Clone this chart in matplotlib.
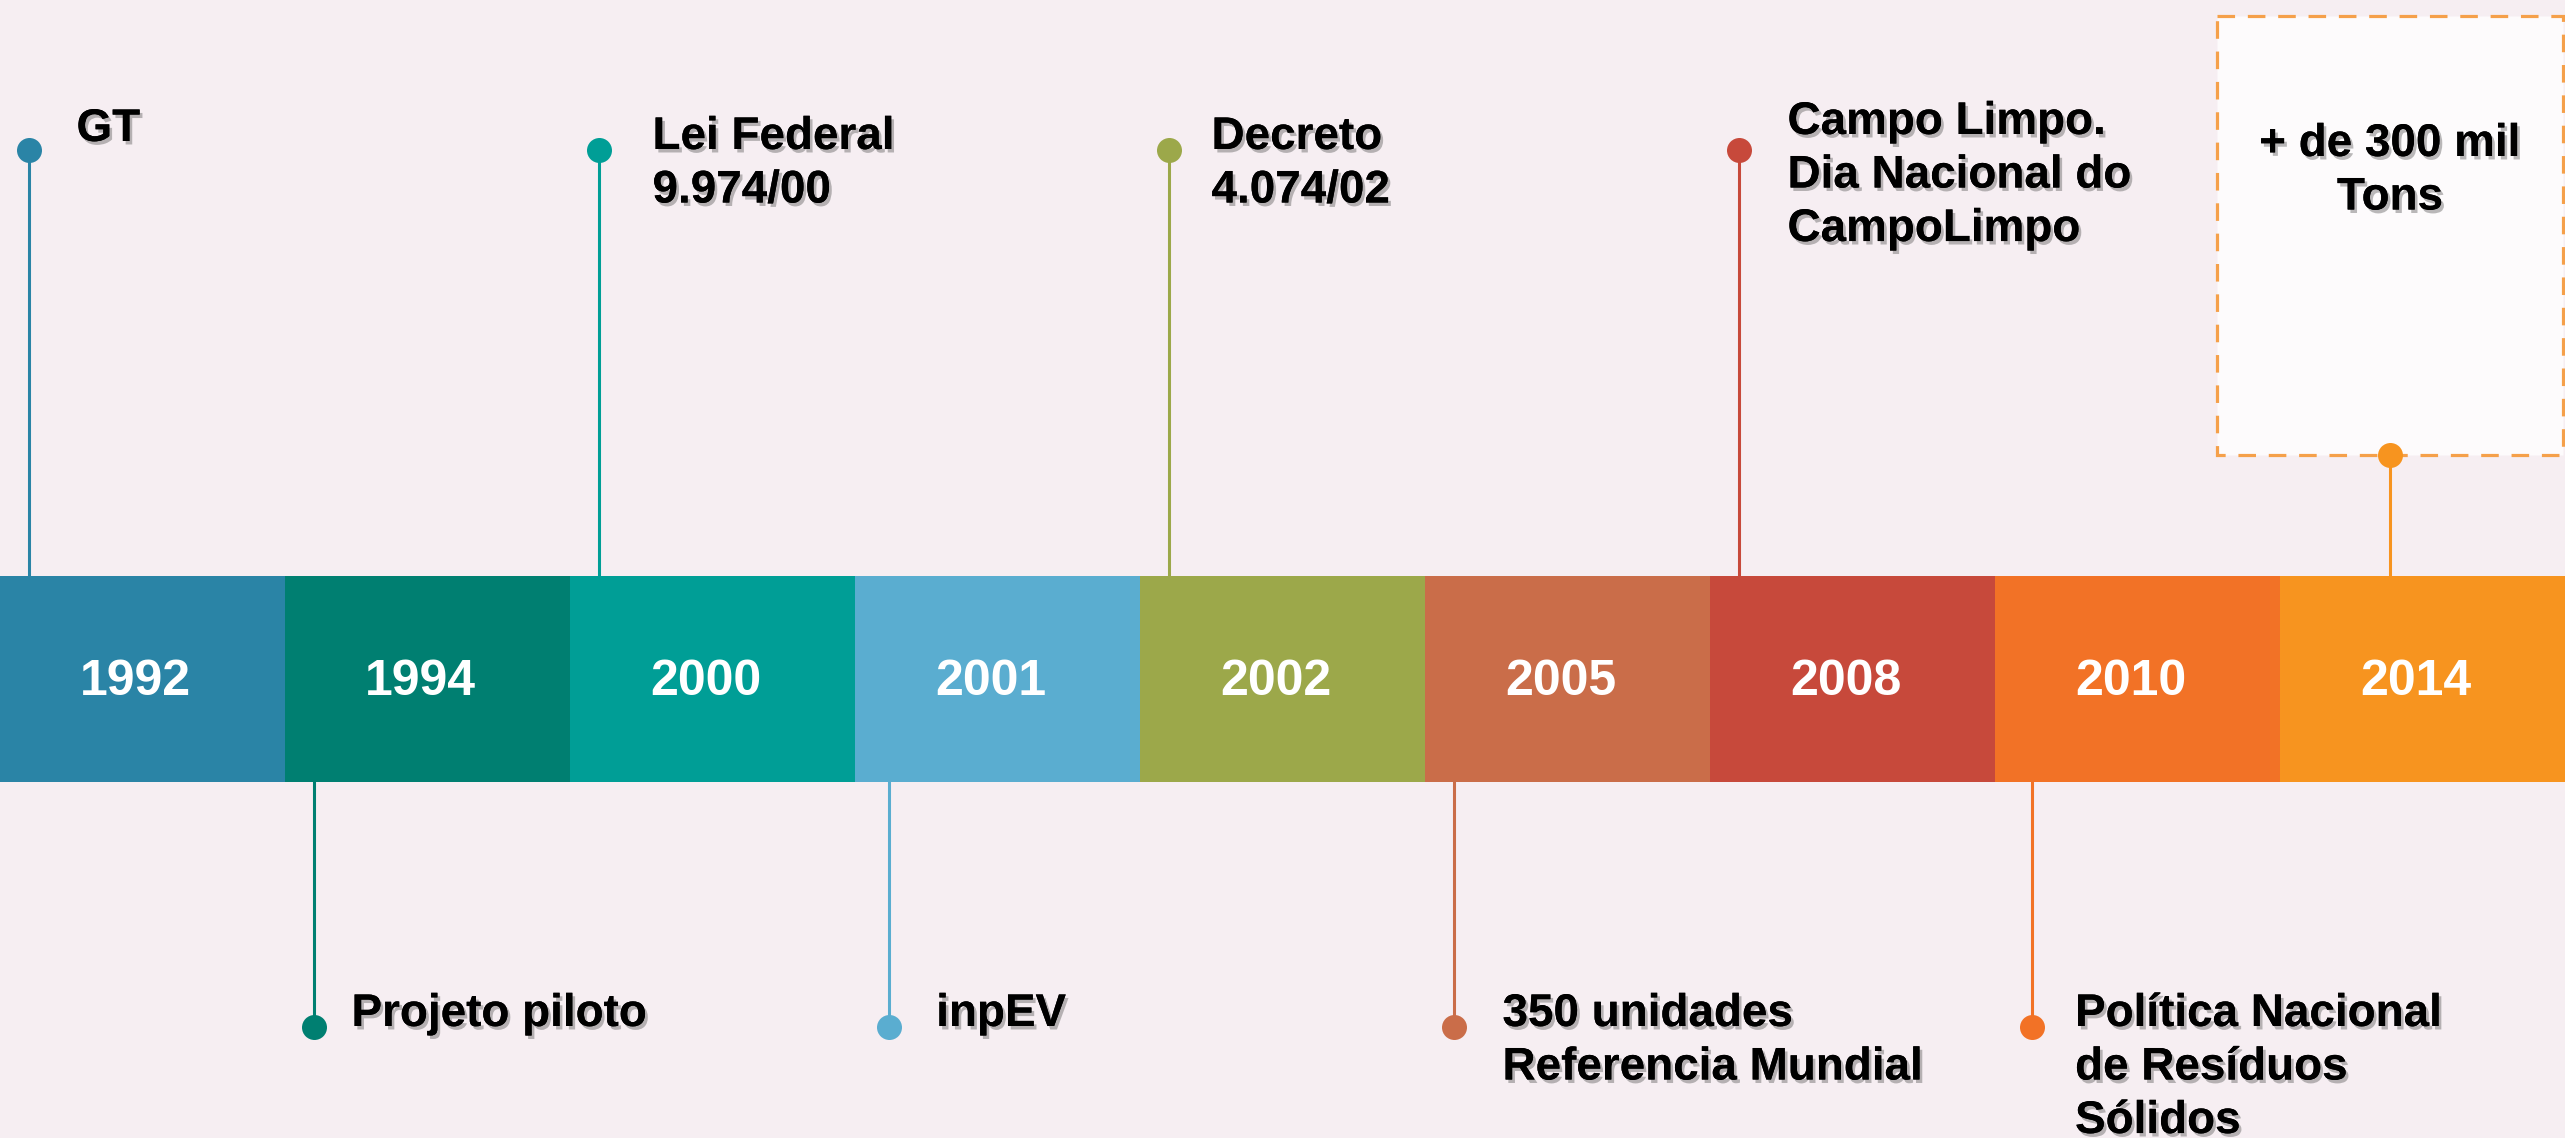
import matplotlib.pyplot as plt
import matplotlib.patheffects as pe
from matplotlib.patches import Rectangle

plt.rcParams['font.family'] = ['Liberation Sans', 'DejaVu Sans']

# timeline data
years = ['1992', '1994', '2000', '2001', '2002', '2005', '2008', '2010', '2014']
events = ['GT', 'Projeto piloto', 'Lei Federal\n9.974/00', 'inpEV', 'Decreto\n4.074/02',
          '350 unidades\nReferencia Mundial', 'Campo Limpo.\nDia Nacional do\nCampoLimpo',
          'Política Nacional\nde Resíduos\nSólidos', '+ de 300 mil\nTons']
side = ['up', 'down', 'up', 'down', 'up', 'down', 'up', 'down', 'box']
colors = ['#2A84A6', '#007F71', '#009E96', '#5AADD0', '#9CA84A',
          '#CA6D49', '#C7493B', '#F27226', '#F7941F']

# layout (pixel units, y downwards)
W, H = 2565, 1138
band_top, band_bot = 576, 782
dot_up, dot_down, dot_box = 150, 1027, 455
dot_frac = [0.1, 0.1, 0.1, 0.12, 0.1, 0.1, 0.1, 0.13, 0.386]
text_dx = [48, 38, 54, 47, 43, 49, 49, 43, 0]
text_top = [107, 992, 115, 992, 115, 992, 100, 992, 122]
bg = '#F6EEF2'

fig = plt.figure(figsize=(W / 100, H / 100), dpi=100, facecolor=bg)
ax = fig.add_axes([0, 0, 1, 1])
ax.set_facecolor(bg)
ax.set_xlim(0, len(years))
ax.set_ylim(H, 0)
ax.axis('off')

shadow = [pe.withSimplePatchShadow(offset=(2, -2.5), shadow_rgbFace='#666666', alpha=0.45), pe.Normal()]
px = len(years) / W  # one pixel in x units

ax.bar(range(len(years)), band_bot - band_top, bottom=band_top, width=1.0,
       align='edge', color=colors, linewidth=0, zorder=2)
for i, y in enumerate(years):
    ax.text(i + 0.5 - 7 * px, (band_top + band_bot) / 2 + 3, y, color='white', fontsize=36,
            fontweight='bold', ha='center', va='center', zorder=3)

for i, (ev, s, c) in enumerate(zip(events, side, colors)):
    x = i + dot_frac[i]
    if s == 'up':
        yd = dot_up
        ax.plot([x, x], [yd, band_top], color=c, lw=2.2, zorder=1)
    elif s == 'down':
        yd = dot_down
        ax.plot([x, x], [band_bot, yd], color=c, lw=2.2, zorder=1)
    else:
        yd = dot_box
        ax.add_patch(Rectangle((x - 173 * px, 16), 346 * px, dot_box - 16,
                               facecolor='#FDFBFC', edgecolor='#F5A04A', lw=2.3,
                               linestyle=(0, (5.5, 4)), zorder=1))
        ax.plot([x, x], [yd, band_top], color=c, lw=2.2, zorder=1)
    ax.plot(x, yd, 'o', color=c, markersize=18, markeredgewidth=0, zorder=3)
    ax.text(x + text_dx[i] * px, text_top[i], ev, fontsize=33, fontweight='bold',
            ha='center' if s == 'box' else 'left', va='top', linespacing=1.28,
            multialignment='center' if s == 'box' else 'left',
            path_effects=shadow, zorder=4)

fig.savefig('out.png', dpi=100, facecolor=bg)
